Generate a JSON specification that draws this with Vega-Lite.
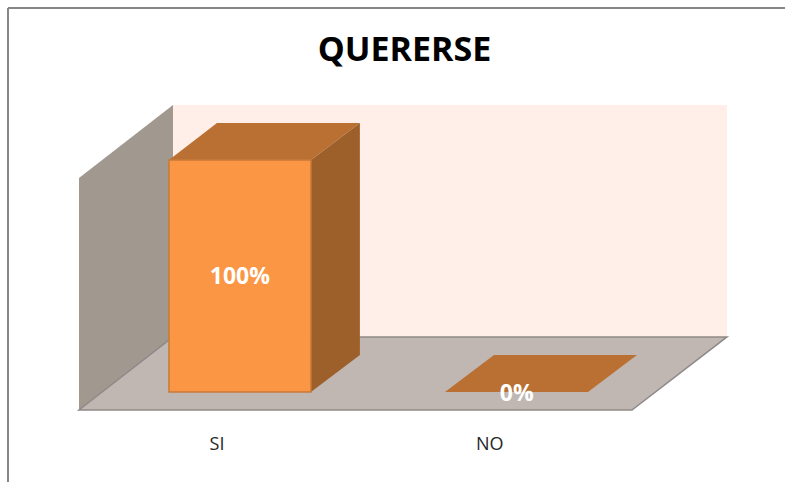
{"$schema":"https://vega.github.io/schema/vega-lite/v6.json","width":785,"height":482,"padding":0,"autosize":{"type":"none"},"background":"white","view":{"stroke":null},"title":{"text":"QUERERSE","font":"Open Sans","fontSize":34,"fontWeight":"bold","color":"#000000","anchor":"middle","dx":12,"dy":99,"baseline":"alphabetic"},"datasets":{"frame":[{"x":-0.2568,"x2":2.5535,"y":173.3,"y2":173.3},{"x":-0.2568,"x2":-0.2568,"y":173.3,"y2":-31}],"wall":[{"x":0,"y":100,"y0":0},{"x":0.34,"y":131.5,"y0":31.5}],"back":[{"x":0.34,"x2":2.3436,"y":131.5,"y2":31.5}],"floor":[{"y":0,"x":0,"x2":2},{"y":31.5,"x":0.34,"x2":2.3436}],"si_top":[{"y":107.8,"x":0.3255,"x2":0.839},{"y":123.7,"x":0.499,"x2":1.016}],"si_side":[{"x":0.839,"y":107.8,"y0":7.76},{"x":1.016,"y":123.7,"y0":23.7}],"si_front":[{"category":"SI","x":0.3255,"x2":0.839,"y":107.8,"y2":7.76}],"no_top":[{"y":7.76,"x":1.3237,"x2":1.841},{"y":23.7,"x":1.501,"x2":2.018}],"value_labels":[{"label":"100%","x":0.582,"y":57.3},{"label":"0%","x":1.583,"y":6.9}],"cat_labels":[{"label":"SI","x":0.499,"y":-15.1},{"label":"NO","x":1.486,"y":-15.1}]},"layer":[{"data":{"name":"frame"},"mark":{"type":"rule","color":"#868686","strokeWidth":2},"encoding":{"x":{"field":"x","type":"quantitative","scale":{"domain":[-0.2857,2.5535],"nice":false,"zero":false},"axis":null},"y":{"field":"y","type":"quantitative","scale":{"domain":[-31.03,176.72],"nice":false,"zero":false},"axis":null},"x2":{"field":"x2"},"y2":{"field":"y2"}}},{"data":{"name":"back"},"mark":{"type":"rect","color":"#ffefe8"},"encoding":{"x":{"field":"x","type":"quantitative"},"x2":{"field":"x2"},"y":{"field":"y","type":"quantitative"},"y2":{"field":"y2"}}},{"data":{"name":"wall"},"mark":{"type":"area","orient":"vertical","color":"#a1988f"},"encoding":{"x":{"field":"x","type":"quantitative"},"y":{"field":"y","type":"quantitative","stack":null},"y2":{"field":"y0"}}},{"data":{"name":"floor"},"mark":{"type":"area","orient":"horizontal","color":"#c1b7b2","stroke":"#8e8a88","strokeWidth":1.5},"encoding":{"y":{"field":"y","type":"quantitative"},"x":{"field":"x","type":"quantitative","stack":null},"x2":{"field":"x2"}}},{"data":{"name":"si_top"},"mark":{"type":"area","orient":"horizontal","color":"#ba7033"},"encoding":{"y":{"field":"y","type":"quantitative"},"x":{"field":"x","type":"quantitative","stack":null},"x2":{"field":"x2"}}},{"data":{"name":"si_side"},"mark":{"type":"area","orient":"vertical","color":"#9e602b"},"encoding":{"x":{"field":"x","type":"quantitative"},"y":{"field":"y","type":"quantitative","stack":null},"y2":{"field":"y0"}}},{"data":{"name":"si_front"},"mark":{"type":"rect","color":"#fa9644","stroke":"#c87a38","strokeWidth":1.5},"encoding":{"x":{"field":"x","type":"quantitative"},"x2":{"field":"x2"},"y":{"field":"y","type":"quantitative"},"y2":{"field":"y2"}}},{"data":{"name":"no_top"},"mark":{"type":"area","orient":"horizontal","color":"#ba7033"},"encoding":{"y":{"field":"y","type":"quantitative"},"x":{"field":"x","type":"quantitative","stack":null},"x2":{"field":"x2"}}},{"data":{"name":"value_labels"},"mark":{"type":"text","font":"Open Sans","fontSize":23,"fontWeight":"bold","color":"#ffffff","align":"center","baseline":"middle"},"encoding":{"x":{"field":"x","type":"quantitative"},"y":{"field":"y","type":"quantitative"},"text":{"field":"label"}}},{"data":{"name":"cat_labels"},"mark":{"type":"text","font":"Open Sans","fontSize":18,"color":"#262626","align":"center","baseline":"middle"},"encoding":{"x":{"field":"x","type":"quantitative"},"y":{"field":"y","type":"quantitative"},"text":{"field":"label"}}}]}
